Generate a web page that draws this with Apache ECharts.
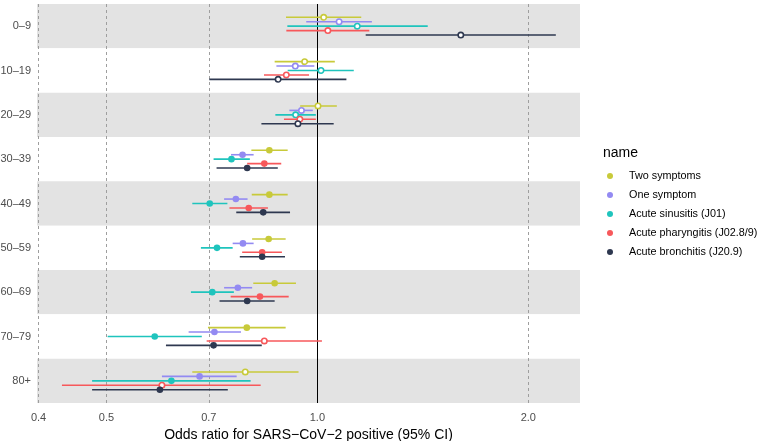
<!DOCTYPE html>
<html><head><meta charset="utf-8">
<script src="https://cdn.jsdelivr.net/npm/echarts@6/dist/echarts.min.js"></script>
<style>html,body{margin:0;padding:0;background:#fff}#c{width:760px;height:441px}</style>
</head><body><div id="c"></div>
<script>
const categories = ['0–9','10–19','20–29','30–39','40–49','50–59','60–69','70–79','80+'];
const seriesNames = ['Two symptoms','One symptom','Acute sinusitis (J01)','Acute pharyngitis (J02.8/9)','Acute bronchitis (J20.9)'];
const xTicks = [0.4, 0.5, 0.7, 1.0, 2.0];

// Two symptoms
const twoEst  = [1.021, 0.959, 1.002, 0.854, 0.854, 0.852, 0.869, 0.793, 0.789];
const twoLo   = [0.902, 0.869, 0.945, 0.805, 0.806, 0.807, 0.810, 0.698, 0.663];
const twoHi   = [1.155, 1.059, 1.066, 0.907, 0.907, 0.901, 0.932, 0.901, 0.940];
const twoOpen = [1, 1, 1, 0, 0, 0, 0, 0, 1];
// One symptom
const oneEst  = [1.074, 0.930, 0.949, 0.782, 0.765, 0.783, 0.770, 0.713, 0.679];
const oneLo   = [0.964, 0.874, 0.912, 0.753, 0.736, 0.757, 0.736, 0.655, 0.600];
const oneHi   = [1.196, 0.990, 0.985, 0.811, 0.795, 0.811, 0.807, 0.778, 0.767];
const oneOpen = [1, 1, 1, 0, 0, 0, 0, 0, 0];
// Acute sinusitis (J01)
const sinEst  = [1.140, 1.012, 0.931, 0.754, 0.702, 0.719, 0.708, 0.586, 0.619];
const sinLo   = [0.906, 0.907, 0.871, 0.711, 0.663, 0.682, 0.660, 0.502, 0.477];
const sinHi   = [1.437, 1.127, 0.995, 0.801, 0.744, 0.757, 0.760, 0.684, 0.803];
const sinOpen = [1, 1, 1, 0, 0, 0, 0, 0, 0];
// Acute pharyngitis (J02.8/9)
const phaEst  = [1.035, 0.903, 0.944, 0.840, 0.798, 0.834, 0.828, 0.840, 0.600];
const phaLo   = [0.903, 0.839, 0.896, 0.794, 0.749, 0.781, 0.752, 0.695, 0.432];
const phaHi   = [1.186, 0.973, 0.995, 0.888, 0.850, 0.890, 0.910, 1.015, 0.830];
const phaOpen = [1, 1, 1, 0, 0, 0, 0, 1, 1];
// Acute bronchitis (J20.9)
const broEst  = [1.602, 0.879, 0.938, 0.794, 0.837, 0.834, 0.794, 0.711, 0.596];
const broLo   = [1.172, 0.701, 0.832, 0.718, 0.766, 0.775, 0.725, 0.608, 0.477];
const broHi   = [2.189, 1.100, 1.055, 0.878, 0.914, 0.899, 0.869, 0.833, 0.745];
const broOpen = [1, 1, 1, 0, 0, 0, 0, 0, 0];

const allEst  = [twoEst, oneEst, sinEst, phaEst, broEst];
const allLo   = [twoLo, oneLo, sinLo, phaLo, broLo];
const allHi   = [twoHi, oneHi, sinHi, phaHi, broHi];
const allOpen = [twoOpen, oneOpen, sinOpen, phaOpen, broOpen];

const colors = ['#c8ca3a', '#938af2', '#1fc4bd', '#f7585b', '#2e3850'];
const offsets = [-0.2, -0.1, 0, 0.1, 0.2];
const FONT = '"Liberation Sans", Arial, sans-serif';

function makeRender(color, offset) {
  return function (params, api) {
    const ci = api.value(0);
    const c = api.coord([api.value(1), ci]);
    const pl = api.coord([api.value(2), ci]);
    const ph = api.coord([api.value(3), ci]);
    const band = api.size([0, 1], [1, ci])[1];
    const y = c[1] + offset * band;
    const open = api.value(4) === 1;
    return {
      type: 'group',
      children: [
        { type: 'line', shape: { x1: pl[0], y1: y, x2: ph[0], y2: y },
          style: { stroke: color, lineWidth: 1.6 } },
        { type: 'circle', shape: { cx: c[0], cy: y, r: open ? 2.7 : 3.3 },
          style: open ? { fill: '#ffffff', stroke: color, lineWidth: 1.6 } : { fill: color } }
      ]
    };
  };
}

const series = seriesNames.map(function (name, s) {
  return {
    type: 'custom',
    name: name,
    coordinateSystem: 'cartesian2d',
    itemStyle: { color: colors[s] },
    renderItem: makeRender(colors[s], offsets[s]),
    encode: { x: [1, 2, 3], y: 0 },
    data: categories.map(function (cat, i) {
      return [i, allEst[s][i], allLo[s][i], allHi[s][i], allOpen[s][i]];
    }),
    z: 5
  };
});
series.push({
  type: 'line', name: 'ref', data: [], z: 2,
  markLine: {
    silent: true, symbol: 'none', label: { show: false },
    lineStyle: { color: '#000000', type: 'solid', width: 1 },
    data: [{ xAxis: 1 }]
  }
});

const chart = echarts.init(document.getElementById('c'), null, { renderer: 'canvas' });
chart.setOption({
  animation: false,
  backgroundColor: '#ffffff',
  textStyle: { fontFamily: FONT },
  grid: { left: 37, right: 180, top: 4, height: 399, containLabel: false, outerBoundsMode: 'none' },
  title: {
    text: 'name', left: 603, top: 146, padding: 0,
    textStyle: { fontFamily: FONT, fontSize: 14, fontWeight: 'normal', color: '#000' }
  },
  legend: {
    data: seriesNames, orient: 'vertical', left: 607, top: 169, padding: 0,
    icon: 'circle', itemWidth: 6, itemHeight: 6, itemGap: 5,
    textStyle: { fontFamily: FONT, fontSize: 10.8, color: '#000', lineHeight: 14, padding: [0, 0, 0, 11] },
    selectedMode: false
  },
  xAxis: {
    type: 'log', min: 0.398, max: 2.37,
    name: 'Odds ratio for SARS−CoV−2 positive (95% CI)',
    nameLocation: 'middle', nameGap: 23,
    nameTextStyle: { fontFamily: FONT, fontSize: 14, color: '#000' },
    axisLine: { show: false },
    axisTick: { show: false, customValues: xTicks },
    axisLabel: {
      customValues: xTicks, margin: 9, fontFamily: FONT, fontSize: 11, color: '#4d4d4d',
      formatter: function (v) { return Number(v).toFixed(1); }
    },
    splitLine: { show: true, lineStyle: { color: '#9e9e9e', width: 1, type: [3, 3] } }
  },
  yAxis: {
    type: 'category', data: categories, inverse: true,
    axisLine: { show: false }, axisTick: { show: false },
    axisLabel: { margin: 6, fontFamily: FONT, fontSize: 11, color: '#4d4d4d' },
    splitLine: { show: false },
    splitArea: { show: true, areaStyle: { color: ['#e3e3e3', '#ffffff'] } }
  },
  series: series
});
</script>
</body></html>
